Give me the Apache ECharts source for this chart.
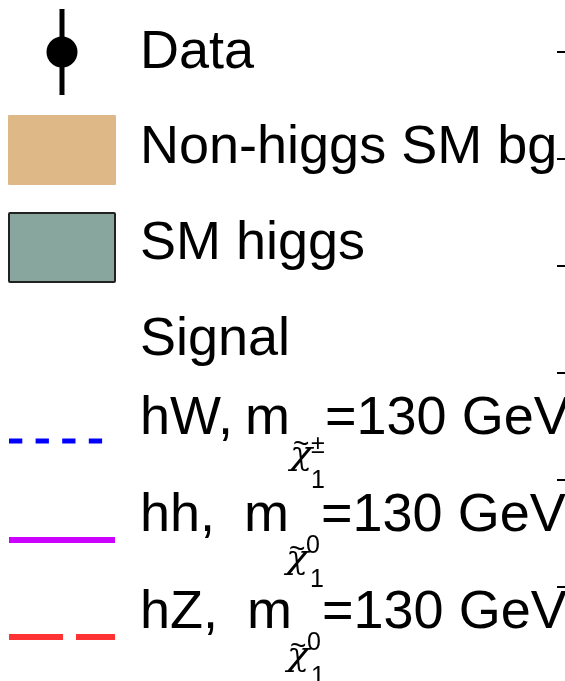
<!DOCTYPE html>
<html><head><meta charset="utf-8">
<script src="https://cdn.jsdelivr.net/npm/echarts@6/dist/echarts.min.js"></script>
<style>html,body{margin:0;padding:0;background:#fff}#c{width:565px;height:681px}</style>
</head><body><div id="c"></div>
<script>
// ---- data ----
const legendLabels = ['Data', 'Non-higgs SM bg', 'SM higgs', 'Signal'];
const signalProc = ['hW,', 'hh, ', 'hZ, '];
const signalSup = ['\u00B1', '0', '0'];
const signalMass = [130, 130, 130];
const yTicks = [0, 1, 2, 3, 4, 5];

// ---- styles ----
const FONT = '"Liberation Sans", Arial, sans-serif';
const FS = 54;
const colBg = '#DEB887', colH = '#89A69E';
const sigColors = ['#0000ff', '#cc00ff', '#ff3333'];

function txt(s, x, baseline, fs, opts) {
  opts = opts || {};
  const el = {
    type: 'text', z: 10,
    style: {
      text: s, x: x, y: baseline - 0.345 * fs,
      font: (opts.italic ? 'italic ' : '') + fs + 'px ' + (opts.family || FONT),
      fill: '#000', align: 'left', verticalAlign: 'middle'
    }
  };
  if (opts.sx) { el.scaleX = opts.sx; el.originX = x; el.originY = baseline; }
  return el;
}

const g = [];
// Data marker
g.push({type: 'line', shape: {x1: 62, y1: 9, x2: 62, y2: 95}, style: {stroke: '#000', lineWidth: 5}});
g.push({type: 'circle', shape: {cx: 62, cy: 52, r: 15.5}, style: {fill: '#000'}});
// boxes
g.push({type: 'rect', shape: {x: 8, y: 115, width: 108, height: 70, r: 1}, style: {fill: colBg}});
g.push({type: 'rect', shape: {x: 9, y: 213, width: 106, height: 69, r: 1}, style: {fill: colH, stroke: '#222', lineWidth: 2}});
// signal lines
g.push({type: 'line', shape: {x1: 9, y1: 441, x2: 103, y2: 441}, style: {stroke: sigColors[0], lineWidth: 5, lineDash: [13.3, 13.3]}});
g.push({type: 'line', shape: {x1: 9, y1: 540, x2: 115, y2: 540}, style: {stroke: sigColors[1], lineWidth: 6}});
g.push({type: 'line', shape: {x1: 9, y1: 637, x2: 115, y2: 637}, style: {stroke: sigColors[2], lineWidth: 6, lineDash: [54, 13]}});

const baselines = [72, 167, 263, 359];
legendLabels.forEach((l, i) => g.push(txt(l, 140, baselines[i], FS)));

const sigBase = [438, 535, 632];
const mX = [245, 244, 247];
const eqX = [325, 321, 322];
// per-row layout of the chi-tilde with super/subscripts
const lay = [
  {chiX: 290, chiB: 467, tilB: 455, supX: 311, supB: 455, subX: 311, subB: 490},
  {chiX: 286, chiB: 571, tilB: 560, supX: 306, supB: 555, subX: 310, subB: 589},
  {chiX: 287, chiB: 668, tilB: 657, supX: 307, supB: 652, subX: 311, subB: 686}
];
signalProc.forEach((p, i) => {
  const b = sigBase[i], L = lay[i];
  g.push(txt(p, 140, b, FS));
  g.push(txt('m', mX[i], b, FS));
  g.push(txt('\u03C7', L.chiX, L.chiB, 32, {italic: true, sx: 1.15, family: '"DejaVu Serif", "Liberation Serif", serif'}));
  g.push(txt('~', L.chiX + 3, L.tilB, 28));
  g.push(txt(signalSup[i], L.supX, L.supB, 25));
  g.push(txt('1', L.subX, L.subB, 25));
  g.push(txt('=' + signalMass[i] + ' GeV', eqX[i], b, FS));
});

const chart = echarts.init(document.getElementById('c'), null, {renderer: 'canvas'});
chart.setOption({
  animation: false,
  backgroundColor: '#fff',
  grid: {left: 565, width: 40, top: 52, height: 535},
  xAxis: {type: 'value', show: false, min: 0, max: 1},
  yAxis: {
    type: 'value', min: yTicks[0], max: yTicks[yTicks.length - 1], interval: yTicks[1] - yTicks[0],
    axisLine: {show: false}, splitLine: {show: false}, axisLabel: {show: false},
    axisTick: {show: true, inside: false, length: 8, lineStyle: {color: '#000', width: 2}}
  },
  series: [{type: 'line', data: [], silent: true}],
  graphic: g
});
</script></body></html>
